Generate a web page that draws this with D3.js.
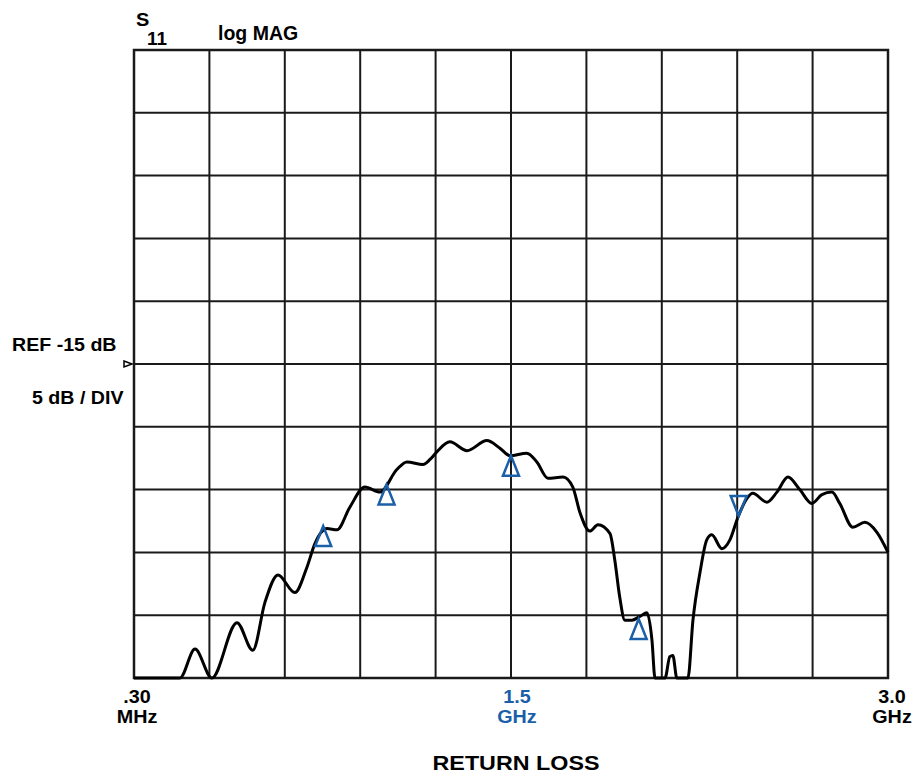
<!DOCTYPE html>
<html>
<head>
<meta charset="utf-8">
<script src="https://cdn.jsdelivr.net/npm/d3@7"></script>
<style>
  html, body { margin: 0; padding: 0; background: #fff; }
  svg { display: block; }
  text { font-family: "Liberation Sans", Arial, sans-serif; font-weight: bold; }
</style>
</head>
<body>
<svg id="chart" width="916" height="776"></svg>
<script>
// S11 return-loss sweep, frequency in GHz, magnitude in dB
const freqGHz = [0.0003, 0.183, 0.243, 0.310, 0.410, 0.473, 0.521, 0.573, 0.640, 0.688,
  0.720, 0.768, 0.808, 0.859, 0.919, 0.979, 1.046, 1.086, 1.150, 1.178,
  1.205, 1.257, 1.325, 1.404, 1.456, 1.496, 1.563, 1.603, 1.647, 1.707,
  1.746, 1.774, 1.814, 1.846, 1.894, 1.913, 1.933, 1.953, 1.981, 2.013,
  2.041, 2.061, 2.073, 2.113, 2.132, 2.144, 2.160, 2.204, 2.224, 2.252,
  2.279, 2.299, 2.339, 2.371, 2.403, 2.439, 2.462, 2.518, 2.558, 2.602,
  2.649, 2.697, 2.737, 2.777, 2.808, 2.860, 2.908, 2.956, 3.000];
const magDB = [-40, -40, -37.7, -40, -35.6, -37.8, -34.0, -31.8, -33.2, -31.2,
  -29.3, -28.1, -28.2, -26.4, -24.8, -25.2, -23.4, -22.8, -23.0, -22.6,
  -22.0, -21.2, -21.9, -21.1, -21.7, -22.3, -22.1, -22.8, -24.1, -24.0,
  -24.8, -26.8, -28.3, -27.8, -28.5, -30.6, -33.6, -35.4, -35.4, -35.1,
  -34.8, -37.0, -40, -40, -38.3, -38.2, -40, -40, -35.4, -31.6,
  -29.0, -28.6, -29.7, -29.0, -27.2, -25.7, -25.3, -26.0, -25.2, -24.0,
  -25.0, -26.1, -25.4, -25.2, -26.1, -28.0, -27.6, -28.4, -30.0];

// Markers: frequency, level, and pointing direction
const markerGHz = [0.753, 1.005, 1.500, 2.008, 2.406];
const markerDB = [-27.9, -24.6, -22.3, -35.3, -27.1];
const markerDir = ["up", "up", "up", "up", "down"];

// Display settings: reference level and scale per division
const refLevel = -15;
const dbPerDiv = 5;
const xDivs = 10, yDivs = 10;
const xTickLabels = [
  { f: 0.0003, top: ".30", bottom: "MHz", blue: false },
  { f: 1.5, top: "1.5", bottom: "GHz", blue: true },
  { f: 3.0, top: "3.0", bottom: "GHz", blue: false }
];

const svg = d3.select("#chart");
const plotL = 134, plotR = 888, plotT = 50, plotB = 678;
const blue = "#1a5fa8";

const x = d3.scaleLinear().domain([0.0003, 3.0]).range([plotL, plotR]);
const y = d3.scaleLinear()
  .domain([refLevel - dbPerDiv * yDivs / 2, refLevel + dbPerDiv * yDivs / 2])
  .range([plotB, plotT]);

// Graticule
const grid = svg.append("g").attr("stroke", "#1a1a1a").attr("stroke-width", 2);
const xStep = (x.domain()[1] - x.domain()[0]) / xDivs;
d3.range(1, xDivs).forEach(i => {
  const xv = x(x.domain()[0] + i * xStep);
  grid.append("line").attr("x1", xv).attr("x2", xv).attr("y1", plotT).attr("y2", plotB);
});
d3.range(1, yDivs).forEach(i => {
  const yv = y(y.domain()[0] + i * dbPerDiv);
  grid.append("line").attr("x1", plotL).attr("x2", plotR).attr("y1", yv).attr("y2", yv);
});
svg.append("rect")
  .attr("x", plotL).attr("y", plotT)
  .attr("width", plotR - plotL).attr("height", plotB - plotT)
  .attr("fill", "none").attr("stroke", "#1a1a1a").attr("stroke-width", 2.5);

// Trace
const data = freqGHz.map((f, i) => [f, magDB[i]]);
svg.append("path")
  .datum(data)
  .attr("fill", "none")
  .attr("stroke", "#000")
  .attr("stroke-width", 3)
  .attr("stroke-linejoin", "round")
  .attr("d", d3.line().x(d => x(d[0])).y(d => y(d[1])).curve(d3.curveMonotoneX));

// Marker triangles
markerGHz.forEach((f, i) => {
  const cx = x(f), cy = y(markerDB[i]);
  const w = 8, h = 20;
  const pts = markerDir[i] === "up"
    ? [[cx, cy], [cx - w, cy + h], [cx + w, cy + h]]
    : [[cx, cy], [cx - w, cy - h], [cx + w, cy - h]];
  svg.append("polygon")
    .attr("points", pts.map(p => p.join(",")).join(" "))
    .attr("fill", "none").attr("stroke", blue).attr("stroke-width", 2.5)
    .attr("stroke-linejoin", "miter");
});

// Reference level pointer
const ry = y(refLevel);
svg.append("polygon")
  .attr("points", `${plotL - 10},${ry - 3} ${plotL - 2},${ry} ${plotL - 10},${ry + 3}`)
  .attr("fill", "#fff").attr("stroke", "#000").attr("stroke-width", 1.5);

// Bold label with a slightly widened face
function label(str, px, py, size, stretch, anchor = "start") {
  return svg.append("text")
    .attr("transform", `translate(${px},${py}) scale(${stretch},1)`)
    .attr("font-size", size)
    .attr("text-anchor", anchor)
    .text(str);
}

// Header text
label("S", 136, 26, 19, 1.05);
label("11", 147, 45, 18, 1.05);
label("log MAG", 218, 40, 19.5, 1.0);

// Scale annotations
label(`REF ${refLevel} dB`, 12, 351, 18.5, 1.06);
label(`${dbPerDiv} dB / DIV`, 32, 404, 18.5, 1.06);

// Frequency labels, two lines each
const offsets = [3, 6, 4];
xTickLabels.forEach((t, i) => {
  const cx = x(t.f) + offsets[i];
  const tx = svg.append("text")
    .attr("transform", `translate(${cx},0) scale(1.13,1)`)
    .attr("fill", t.blue ? blue : "#000")
    .attr("text-anchor", "middle").attr("font-size", 17.5);
  tx.append("tspan").attr("x", 0).attr("y", 703).text(t.top);
  tx.append("tspan").attr("x", 0).attr("y", 723).text(t.bottom);
});

label("RETURN LOSS", 516, 770, 21, 1.11, "middle");
</script>
</body>
</html>
